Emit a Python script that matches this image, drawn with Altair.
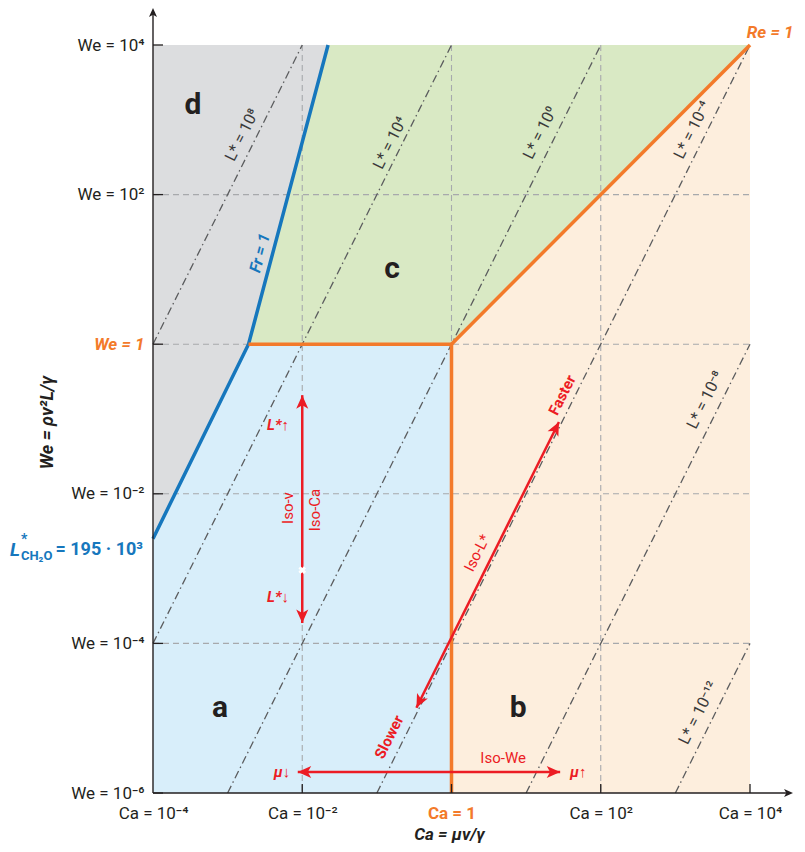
import math
import altair as alt
import pandas as pd

# ---------------- data ----------------
ca_ticks = [1e-4, 1e-2, 1, 1e2, 1e4]
ca_tick_labels = ["Ca = 10⁻⁴", "Ca = 10⁻²", "Ca = 1", "Ca = 10²", "Ca = 10⁴"]
we_ticks = [1e4, 1e2, 1, 1e-2, 1e-4, 1e-6]
we_tick_labels = ["We = 10⁴", "We = 10²", "We = 1", "We = 10⁻²", "We = 10⁻⁴", "We = 10⁻⁶"]
grid_ca = [1e-2, 1, 1e2]
grid_we = [1e2, 1, 1e-2, 1e-4]

# Fr = 1 boundary (blue)
fr_ca = [1e-4, 10 ** -2.72, 10 ** -1.654]
fr_we = [10 ** -2.6, 1, 1e4]

# regions: x points, lower and upper boundary
reg_d_ca = [1e-4, 10 ** -2.72, 10 ** -1.654]
reg_d_lo = [10 ** -2.6, 1, 1e4]
reg_d_hi = [1e4, 1e4, 1e4]
reg_a_ca = [1e-4, 10 ** -2.72, 1]
reg_a_lo = [1e-6, 1e-6, 1e-6]
reg_a_hi = [10 ** -2.6, 1, 1]
reg_c_ca = [10 ** -2.72, 10 ** -1.654, 1, 1e4]
reg_c_lo = [1, 1, 1, 1e4]
reg_c_hi = [1, 1e4, 1e4, 1e4]
reg_b_ca = [1, 1e4]
reg_b_lo = [1e-6, 1e-6]
reg_b_hi = [1, 1e4]

# orange boundaries (We = 1, Ca = 1, Re = 1)
or1_ca = [10 ** -2.72, 1, 1]
or1_we = [1, 1, 1e-6]
or2_ca = [1, 1e4]
or2_we = [1, 1e4]

# iso-L* dash-dot lines: endpoints
lstar_names = ["1e8", "1e4", "1e0", "1e-4", "1e-8", "1e-12"]
lstar_ca0 = [1e-4, 1e-4, 1e-3, 1e-1, 1e1, 1e3]
lstar_we0 = [1, 1e-4, 1e-6, 1e-6, 1e-6, 1e-6]
lstar_ca1 = [1e-2, 1, 1e2, 1e4, 1e4, 1e4]
lstar_we1 = [1e4, 1e4, 1e4, 1e4, 1, 1e-4]
lstar_text = ["L* = 10⁸", "L* = 10⁴", "L* = 10⁰", "L* = 10⁻⁴", "L* = 10⁻⁸", "L* = 10⁻¹²"]
lstar_lab_ca = [10 ** -2.807, 10 ** -0.823, 10 ** 1.188, 10 ** 3.225, 10 ** 3.399, 10 ** 3.306]
lstar_lab_we = [10 ** 2.797, 10 ** 2.69, 10 ** 2.824, 10 ** 2.864, 10 ** -0.746, 10 ** -4.93]

# arrows
iso_ca_arrow_ca = [1e-2, 1e-2]
iso_ca_arrow_we = [10 ** -0.682, 10 ** -3.727]
iso_we_arrow_ca = [10 ** -2.06, 10 ** 1.456]
iso_we_arrow_we = [10 ** -5.72, 10 ** -5.72]
iso_l_arrow_ca = [10 ** -0.47, 10 ** 1.44]
iso_l_arrow_we = [10 ** -4.86, 10 ** -1.04]

# ---------------- style ----------------
W, H = 597, 748
DARK = "#231f20"
ORANGE = "#f37a2a"
BLUE = "#1677bd"
RED = "#ec1c24"
GRID = "#a7a9ac"
DASHDOT = "#5b5c5e"
FONT = "Roboto"
ARROW = "M0,0L-0.45,1L0,0.75L0.45,1Z"


def label_expr(ticks, labels):
    expr = "''"
    for v, lab in reversed(list(zip(ticks, labels))):
        expr = f"abs(log(datum.value)/LN10 - ({math.log10(v)})) < 0.01 ? '{lab}' : {expr}"
    return expr


xscale = alt.Scale(type="log", domain=[1e-4, 1e4], nice=False, zero=False)
yscale = alt.Scale(type="log", domain=[1e-6, 1e4], nice=False, zero=False)

xaxis = alt.Axis(
    values=ca_ticks, labelExpr=label_expr(ca_ticks, ca_tick_labels), domain=False,
    ticks=False, grid=False, labelFlush=False, labelOverlap=False, labelBound=False,
    labelFontSize=17, labelFont=FONT, labelPadding=12,
    labelColor={"condition": {"test": "datum.value == 1", "value": ORANGE}, "value": DARK},
    labelFontWeight={"condition": {"test": "datum.value == 1", "value": "bold"}, "value": "normal"},
    title="Ca = μv/γ", titleFontSize=17, titleFont=FONT, titleFontStyle="italic",
    titleFontWeight="bold", titleColor=DARK, titleX=296, titleY=46, titleBaseline="alphabetic",
    titleAlign="center",
)
yaxis = alt.Axis(
    values=we_ticks, labelExpr=label_expr(we_ticks, we_tick_labels), domain=False,
    ticks=False, grid=False, labelFlush=False, labelOverlap=False, labelBound=False,
    labelFontSize=17, labelFont=FONT, labelPadding=9,
    labelColor={"condition": {"test": "datum.value == 1", "value": ORANGE}, "value": DARK},
    labelFontWeight={"condition": {"test": "datum.value == 1", "value": "bold"}, "value": "normal"},
    labelFontStyle={"condition": {"test": "datum.value == 1", "value": "italic"}, "value": "normal"},
    title="We = ρv²L/γ", titleFontSize=18, titleFont=FONT, titleFontStyle="italic",
    titleFontWeight="bold", titleColor=DARK, titleX=-106, titleY=377, titleBaseline="middle",
    titleAlign="center",
)


def X(field="ca"):
    return alt.X(f"{field}:Q", scale=xscale, axis=xaxis)


def Y(field="we", stack=False):
    if stack:
        return alt.Y(f"{field}:Q", scale=yscale, axis=yaxis, stack=None)
    return alt.Y(f"{field}:Q", scale=yscale, axis=yaxis)


# ---------------- regions ----------------
rows = []
for name, cas, los, his in [
    ("d", reg_d_ca, reg_d_lo, reg_d_hi),
    ("a", reg_a_ca, reg_a_lo, reg_a_hi),
    ("c", reg_c_ca, reg_c_lo, reg_c_hi),
    ("b", reg_b_ca, reg_b_lo, reg_b_hi),
]:
    for c, lo, hi in zip(cas, los, his):
        rows.append({"region": name, "ca": c, "we": lo, "we2": hi})
regions_df = pd.DataFrame(rows)

regions = alt.Chart(regions_df).mark_area(interpolate="linear", opacity=1).encode(
    x=X(), y=Y(stack=True), y2="we2:Q",
    color=alt.Color("region:N", legend=None,
                    scale=alt.Scale(domain=["a", "b", "c", "d"],
                                    range=["#d8eefa", "#fdeedd", "#d9e9c4", "#dcdddf"])),
)

# ---------------- grid ----------------
gridx = alt.Chart(pd.DataFrame({"ca": grid_ca})).mark_rule(
    color=GRID, strokeDash=[6, 4], strokeWidth=1.1
).encode(x=X(), y=alt.value(0), y2=alt.value(H))
gridy = alt.Chart(pd.DataFrame({"we": grid_we})).mark_rule(
    color=GRID, strokeDash=[6, 4], strokeWidth=1.1
).encode(y=Y(), x=alt.value(0), x2=alt.value(W))

# ---------------- iso-L* lines ----------------
lrows = []
for n, a0, b0, a1, b1 in zip(lstar_names, lstar_ca0, lstar_we0, lstar_ca1, lstar_we1):
    lrows.append({"name": n, "ca": a0, "we": b0, "o": 0})
    lrows.append({"name": n, "ca": a1, "we": b1, "o": 1})
lstar_lines = alt.Chart(pd.DataFrame(lrows)).mark_line(
    color=DASHDOT, strokeWidth=1.3, strokeDash=[8, 3.5, 1.5, 3.5]
).encode(x=X(), y=Y(), detail="name:N", order="o:Q")

lstar_labels = alt.Chart(pd.DataFrame({"ca": lstar_lab_ca, "we": lstar_lab_we, "t": lstar_text})).mark_text(
    angle=296.6, fontSize=16, color="#3a3a3a", font=FONT
).encode(x=X(), y=Y(), text="t:N")

# ---------------- boundaries ----------------
fr_line = alt.Chart(pd.DataFrame({"ca": fr_ca, "we": fr_we, "o": [0, 1, 2]})).mark_line(
    color=BLUE, strokeWidth=3.5, strokeJoin="miter"
).encode(x=X(), y=Y(), order="o:Q")

orows = []
for i, (c, w) in enumerate(zip(or1_ca, or1_we)):
    orows.append({"seg": "p1", "ca": c, "we": w, "o": i})
for i, (c, w) in enumerate(zip(or2_ca, or2_we)):
    orows.append({"seg": "p2", "ca": c, "we": w, "o": i})
orange_lines = alt.Chart(pd.DataFrame(orows)).mark_line(
    color=ORANGE, strokeWidth=3.5, strokeJoin="miter"
).encode(x=X(), y=Y(), detail="seg:N", order="o:Q")


# ---------------- arrows ----------------
def arrow(cas, wes, ang_end, ang_start):
    df = pd.DataFrame({"ca": cas, "we": wes, "o": [0, 1]})
    line = alt.Chart(df).mark_line(color=RED, strokeWidth=2.5).encode(x=X(), y=Y(), order="o:Q")
    h1 = alt.Chart(df.iloc[[1]]).mark_point(
        shape=ARROW, filled=True, opacity=1, color=RED, size=720, angle=ang_end
    ).encode(x=X(), y=Y())
    h0 = alt.Chart(df.iloc[[0]]).mark_point(
        shape=ARROW, filled=True, opacity=1, color=RED, size=720, angle=ang_start
    ).encode(x=X(), y=Y())
    return [line, h0, h1]


arrows = []
arrows += arrow(iso_ca_arrow_ca, iso_ca_arrow_we, 180, 0)
arrows += arrow(iso_we_arrow_ca, iso_we_arrow_we, 90, 270)
arrows += arrow(iso_l_arrow_ca, iso_l_arrow_we, 26.6, 206.6)

white_x = alt.Chart(pd.DataFrame({"ca": [1e-2], "we": [10 ** -3.02]})).mark_point(
    shape="cross", angle=45, filled=True, opacity=1, color="white", size=60
).encode(x=X(), y=Y())


# ---------------- text annotations ----------------
def txt(t, ca, we, size=15, color=DARK, weight="normal", style="normal", angle=0,
        align="center", baseline="middle", dy=0):
    return alt.Chart(pd.DataFrame({"ca": [ca], "we": [we], "t": [t]})).mark_text(
        fontSize=size, color=color, fontWeight=weight, fontStyle=style, angle=angle,
        align=align, baseline=baseline, dy=dy, font=FONT
    ).encode(x=X(), y=Y(), text="t:N")


LW = 10 ** -2.751  # vertical position of the L*_CH2O label
texts = [
    txt("d", 10 ** -3.464, 10 ** 3.198, size=30, weight="bold"),
    txt("c", 10 ** -0.796, 10 ** 1.005, size=30, weight="bold"),
    txt("a", 10 ** -3.102, 10 ** -4.864, size=30, weight="bold"),
    txt("b", 10 ** 0.893, 10 ** -4.864, size=30, weight="bold"),
    txt("Fr = 1", 10 ** -2.566, 10 ** 1.219, size=16, color=BLUE, weight="bold", style="italic", angle=284.8),
    txt("Re = 1", 10 ** 4.27, 10 ** 4.16, size=17, color=ORANGE, weight="bold", style="italic"),
    # L*_CH2O label
    txt("= 195 · 10³", 10 ** -4.134, LW, size=18, color=BLUE, weight="bold", align="right"),
    txt("L", 10 ** -5.917, LW, size=19, color=BLUE, weight="bold", style="italic", align="left"),
    txt("*", 10 ** -5.77, LW, size=14, color=BLUE, weight="bold", align="left", dy=-10),
    txt("CH₂O", 10 ** -5.77, LW, size=13, color=BLUE, weight="bold", align="left", dy=6),
    # iso-Ca / iso-v
    txt("L*↑", 10 ** -2.324, 10 ** -1.08, size=15, color=RED, weight="bold", style="italic"),
    txt("L*↓", 10 ** -2.324, 10 ** -3.38, size=15, color=RED, weight="bold", style="italic"),
    txt("Iso-v", 10 ** -2.19, 10 ** -2.19, size=15, color=RED, angle=270),
    txt("Iso-Ca", 10 ** -1.828, 10 ** -2.217, size=15, color=RED, angle=270),
    # iso-L*
    txt("Faster", 10 ** 1.483, 10 ** -0.679, size=15, color=RED, weight="bold", angle=296.6),
    txt("Slower", 10 ** -0.836, 10 ** -5.251, size=15, color=RED, weight="bold", angle=296.6),
    txt("Iso-L*", 10 ** 0.343, 10 ** -2.791, size=15, color=RED, angle=296.6),
    # iso-We
    txt("μ↓", 10 ** -2.271, 10 ** -5.72, size=15, color=RED, weight="bold", style="italic"),
    txt("μ↑", 10 ** 1.697, 10 ** -5.72, size=15, color=RED, weight="bold", style="italic"),
    txt("Iso-We", 10 ** 0.692, 10 ** -5.532, size=15, color=RED),
]

# ---------------- axis lines, ticks, arrowheads ----------------
one = pd.DataFrame({"k": [0]})
yline = alt.Chart(one).mark_rule(color=DARK, strokeWidth=1.4).encode(
    x=alt.value(0), y=alt.value(-34), y2=alt.value(H))
xline = alt.Chart(one).mark_rule(color=DARK, strokeWidth=1.4).encode(
    x=alt.value(0), x2=alt.value(W + 40), y=alt.value(H))
yhead = alt.Chart(one).mark_point(shape=ARROW, filled=True, opacity=1, color=DARK, size=320, angle=0).encode(
    x=alt.value(0), y=alt.value(-37))
xhead = alt.Chart(one).mark_point(shape=ARROW, filled=True, opacity=1, color=DARK, size=320, angle=90).encode(
    x=alt.value(W + 43), y=alt.value(H))
xticks = alt.Chart(pd.DataFrame({"ca": ca_ticks[1:]})).mark_rule(color=DARK, strokeWidth=1.3).encode(
    x=X(), y=alt.value(H), y2=alt.value(H - 9))
yticks = alt.Chart(pd.DataFrame({"we": we_ticks})).mark_rule(color=DARK, strokeWidth=1.3).encode(
    y=Y(), x=alt.value(0), x2=alt.value(10))

chart = alt.layer(
    regions, gridx, gridy, lstar_lines, lstar_labels, fr_line, orange_lines,
    *arrows, white_x, *texts, yline, xline, yhead, xhead, xticks, yticks
).properties(
    width=W, height=H,
    autosize=alt.AutoSizeParams(type="none"),
    padding={"left": 145, "top": 37, "right": 47, "bottom": 50},
).configure(font=FONT).configure_view(stroke=None)

chart.save("out.html", embed_options={"renderer": "svg", "actions": False})
